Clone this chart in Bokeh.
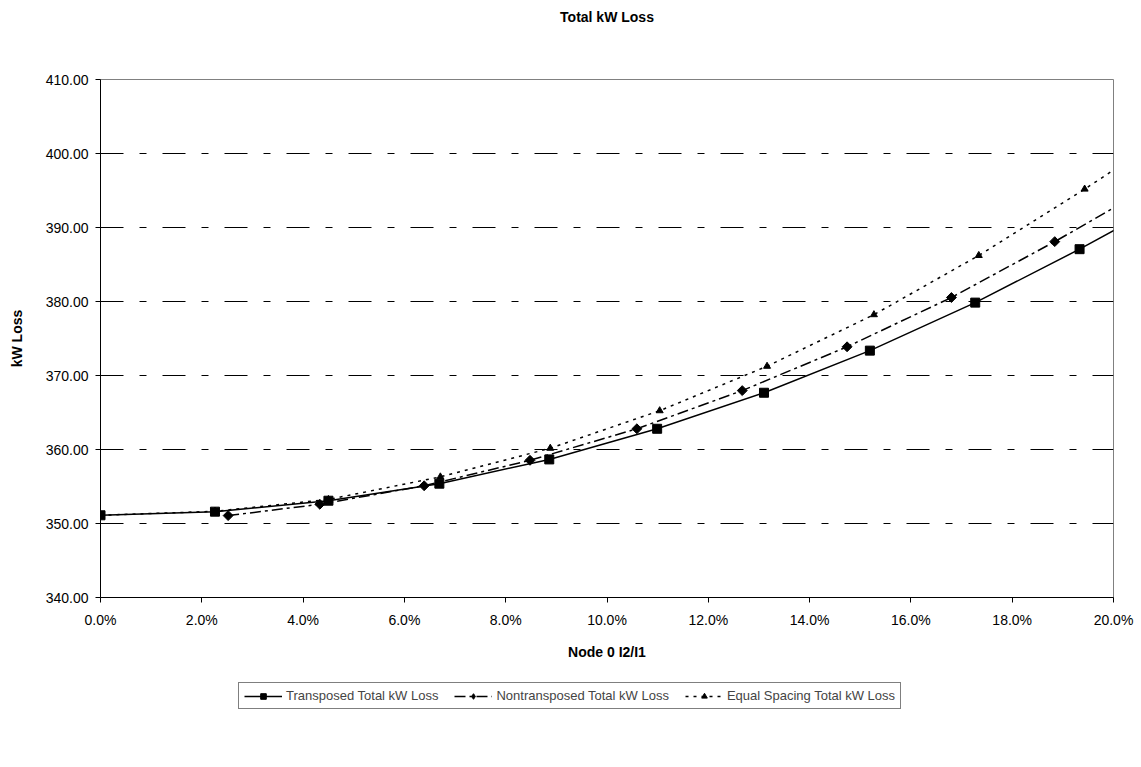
import math
from bokeh.plotting import figure
from bokeh.layouts import column
from bokeh.models import Legend, LegendItem, NumeralTickFormatter, FixedTicker, Range1d
from bokeh.embed import file_html
from bokeh.resources import INLINE

# ---- data ----
pct_transposed = [0.0, 2.26, 4.50, 6.69, 8.86, 10.99, 13.10, 15.19, 17.27, 19.33, 21.40]
loss_transposed = [351.11, 351.60, 353.08, 355.38, 358.66, 362.80, 367.67, 373.36, 379.85, 387.07, 394.80]

pct_nontransposed = [2.52, 4.33, 6.39, 8.48, 10.59, 12.67, 14.74, 16.80, 18.84, 20.91]
loss_nontransposed = [351.07, 352.60, 355.10, 358.54, 362.80, 367.96, 373.88, 380.54, 388.09, 396.20]

pct_equal = [0.0, 2.26, 4.50, 6.71, 8.88, 11.04, 13.16, 15.27, 17.34, 19.43, 21.52]
loss_equal = [351.11, 351.65, 353.25, 356.30, 360.17, 365.24, 371.25, 378.22, 386.22, 395.19, 404.60]

series_names = ["Transposed Total kW Loss", "Nontransposed Total kW Loss", "Equal Spacing Total kW Loss"]
chart_title = "Total kW Loss"

x_ticks = [0.0, 0.02, 0.04, 0.06, 0.08, 0.10, 0.12, 0.14, 0.16, 0.18, 0.20]
y_ticks = [340, 350, 360, 370, 380, 390, 400, 410]

FONT = "Liberation Sans"

tx = [v / 100 for v in pct_transposed]
nx = [v / 100 for v in pct_nontransposed]
ex = [v / 100 for v in pct_equal]


def draw_series(fig, for_legend=False):
    r1l = fig.line(tx, loss_transposed, line_color="black", line_width=1.5)
    r1m = fig.scatter(tx, loss_transposed, marker="square", size=9, color="black")
    r2l = fig.line(nx, loss_nontransposed, line_color="black", line_width=1.5, line_dash="11 4 3 4")
    if for_legend:
        r2m = fig.scatter(nx, loss_nontransposed, marker="diamond", size=12, color="black")
    else:
        r2m = fig.scatter(nx, loss_nontransposed, marker="square", size=7, angle=math.pi / 4, color="black")
    r3l = fig.line(ex, loss_equal, line_color="black", line_width=1.5, line_dash="3 5")
    r3m = fig.scatter(ex, loss_equal, marker="triangle", size=7, color="black")
    return [[r1l, r1m], [r2l, r2m], [r3l, r3m]]


def blank_strip(height):
    f = figure(width=1141, height=height, output_backend="svg", toolbar_location=None,
               x_range=Range1d(10, 11), y_range=Range1d(0, 1),
               x_axis_location=None, y_axis_location=None,
               min_border_left=0, min_border_right=0, min_border_top=0, min_border_bottom=0)
    f.outline_line_color = None
    f.grid.visible = False
    f.background_fill_color = "white"
    f.border_fill_color = "white"
    return f


# ---- title strip ----
tf = blank_strip(40)
tf.title.text = chart_title
tf.title.align = "center"
tf.title.offset = -36
tf.title.standoff = 13
tf.title.text_font = FONT
tf.title.text_font_size = "14px"
tf.title.text_font_style = "bold"
tf.title.text_color = "black"

# ---- main chart ----
p = figure(width=1141, height=636, output_backend="svg", toolbar_location=None,
           x_range=Range1d(0, 0.20), y_range=Range1d(340, 410),
           min_border_left=100, min_border_right=28, min_border_top=39, min_border_bottom=79)
p.background_fill_color = "white"
p.border_fill_color = "white"
p.outline_line_color = "#808080"
p.outline_line_width = 1

draw_series(p)

p.xaxis.ticker = FixedTicker(ticks=x_ticks)
p.xaxis.formatter = NumeralTickFormatter(format="0.0%")
p.yaxis.ticker = FixedTicker(ticks=y_ticks)
p.yaxis.formatter = NumeralTickFormatter(format="0.00")
for ax in (p.xaxis[0], p.yaxis[0]):
    ax.axis_line_color = "black"
    ax.axis_line_width = 1
    ax.major_tick_line_color = "black"
    ax.major_tick_out = 5
    ax.major_tick_in = 0
    ax.minor_tick_line_color = None
    ax.major_label_text_font = FONT
    ax.major_label_text_font_size = "14px"
    ax.major_label_text_color = "black"
    ax.axis_label_text_font = FONT
    ax.axis_label_text_font_size = "14px"
    ax.axis_label_text_font_style = "bold"
    ax.axis_label_text_color = "black"
p.xaxis.axis_label = "Node 0 I2/I1"
p.yaxis.axis_label = "kW Loss"
p.xaxis.major_label_standoff = 9
p.xaxis.axis_label_standoff = 13
p.yaxis.major_label_standoff = 7
p.yaxis.axis_label_standoff = 18

p.xgrid.grid_line_color = None
p.ygrid.grid_line_color = "black"
p.ygrid.grid_line_width = 1
p.ygrid.grid_line_dash = "23 16 7 16"

# ---- legend strip (same series, drawn outside its visible range) ----
lg = blank_strip(91)
lg_renderers = draw_series(lg, for_legend=True)

legend = Legend(items=[LegendItem(label=name, renderers=rs)
                       for name, rs in zip(series_names, lg_renderers)],
                orientation="horizontal", location=(138, 58))
legend.border_line_color = "black"
legend.border_line_width = 1
legend.background_fill_color = "white"
legend.label_text_font = FONT
legend.label_text_font_size = "13px"
legend.glyph_width = 38
legend.glyph_height = 14
legend.spacing = 16
legend.padding = 5
legend.margin = 0
legend.label_standoff = 4
lg.add_layout(legend, "center")

layout = column(tf, p, lg, spacing=0)
open("out.html", "w").write(file_html(layout, INLINE))
